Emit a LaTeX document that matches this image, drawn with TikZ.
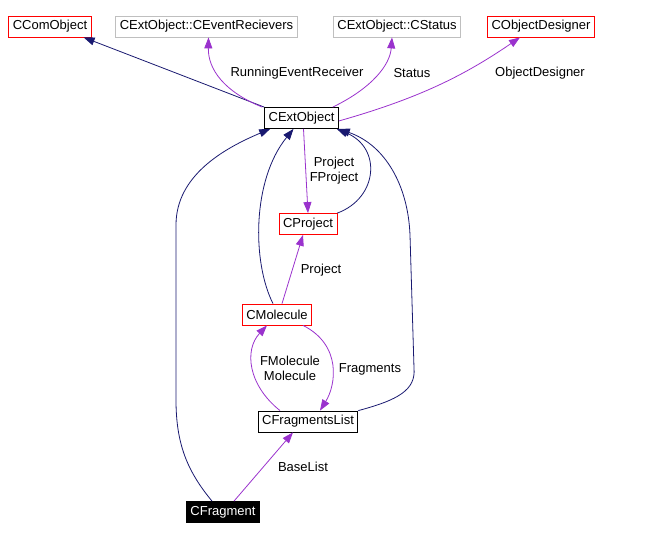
\documentclass[tikz,border=0pt]{standalone}
\usepackage{fontspec}
\setmainfont{Liberation Sans}
\usetikzlibrary{arrows.meta, positioning}

\definecolor{inhblue}{HTML}{191970}
\definecolor{usepurple}{HTML}{9A32CD}
\definecolor{boxgrey}{HTML}{BFBFBF}

\begin{document}
\begin{tikzpicture}[x=1pt, y=-1pt,
		every node/.style={font=\fontsize{13}{15}\selectfont},
		cls/.style={draw=black, line width=0.8pt, inner xsep=4pt, inner ysep=0pt, minimum height=21pt},
		redcls/.style={cls, draw=red},
		greycls/.style={cls, draw=boxgrey},
		inh/.style={draw=inhblue, line width=0.8pt, -{Triangle[length=11pt,width=8pt]}},
		uses/.style={draw=usepurple, line width=0.8pt, -{Triangle[length=11pt,width=8pt]}},
		lbl/.style={inner sep=0pt, align=center}
	]
	\useasboundingbox (0,0) rectangle (648,540);

	%% classes
	\node[redcls] (comobj) at (50,26.5) {CComObject};
	\node[greycls] (evrecv) at (206.5,26.5) {CExtObject::CEventRecievers};
	\node[greycls] (status) at (397,26.5) {CExtObject::CStatus};
	\node[redcls] (designer) at (541,26.5) {CObjectDesigner};
	\node[cls] (extobj) at (301.5,118) {CExtObject};
	\node[redcls] (project) at (308,224) {CProject};
	\node[redcls] (molecule) at (277,314.5) {CMolecule};
	\node[cls] (fraglist) at (308,421.5) {CFragmentsList};
	\node[cls, fill=black, text=white] (fragment) at (223,512) {CFragment};

	%% inheritance
	\draw[inh] (extobj.north west) -- ([xshift=-8pt]comobj.south east);
	\draw[inh] (project.north east) .. controls (378,198) and (382,148) .. ([xshift=-2pt]extobj.south east);
	\draw[inh] ([xshift=-4pt]molecule.north) .. controls (252,262) and (252,180) .. ([xshift=-8pt]extobj.south);
	\draw[inh] ([xshift=-11pt]fragment.north) .. controls (188,472) and (176,445) .. (176,400)
		-- (176,225) .. controls (176,175) and (225,148) .. ([xshift=6pt]extobj.south west);
	\draw[inh] (fraglist.north east) .. controls (398,400) and (416,390) .. (414,368)
		-- (410,235) .. controls (408,185) and (385,145) .. (extobj.south east);

	%% members
	\draw[uses] ([xshift=-2pt]extobj.north west) .. controls (225,92) and (208,70) .. ([xshift=2pt]evrecv.south);
	\draw[uses] ([xshift=-6pt]extobj.north east) .. controls (372,88) and (390,65) .. ([xshift=-5pt]status.south);
	\draw[uses] ([yshift=-3pt]extobj.east) .. controls (420,98) and (465,75) .. ([xshift=-21pt]designer.south);
	\draw[uses] ([xshift=2pt]extobj.south) -- (project.north);
	\draw[uses] ([xshift=5pt]molecule.north) -- ([xshift=-5pt]project.south);
	\draw[uses] ([xshift=26pt]molecule.south) .. controls (342,345) and (336,385) .. ([xshift=12pt]fraglist.north);
	\draw[uses] ([xshift=-28pt]fraglist.north) .. controls (248,385) and (244,350) .. ([xshift=-10pt]molecule.south);
	\draw[uses] ([xshift=11pt]fragment.north) -- ([xshift=-15pt]fraglist.south);

	%% labels
	\node[lbl] (l-recv) at (297,73) {RunningEventReceiver};
	\node[lbl] (l-status) at (412,73) {Status};
	\node[lbl] (l-designer) at (540,73) {ObjectDesigner};
	\node[lbl] (l-proj1) at (334,171) {Project\\FProject};
	\node[lbl] (l-proj2) at (321,270) {Project};
	\node[lbl] (l-mol) at (290,368) {FMolecule\\Molecule};
	\node[lbl] (l-frags) at (370,369) {Fragments};
	\node[lbl] (l-base) at (303,467) {BaseList};
\end{tikzpicture}
\end{document}
